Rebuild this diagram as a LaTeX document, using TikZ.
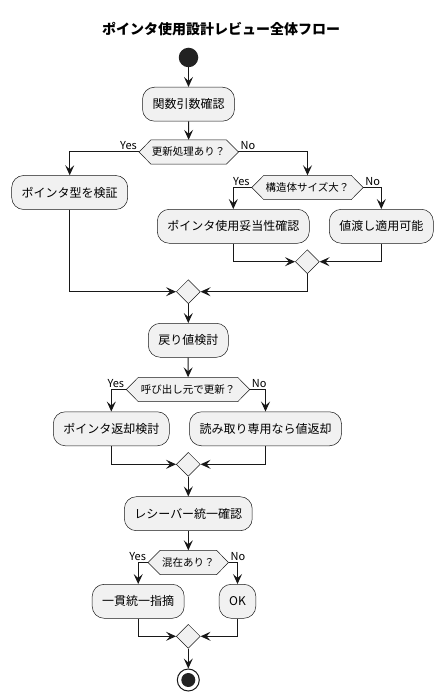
\documentclass[tikz,border=0pt]{standalone}
\usepackage{fontspec}
\setmainfont{Noto Sans CJK JP}
\usetikzlibrary{shapes.geometric,arrows.meta}
\definecolor{boxfill}{HTML}{F1F1F1}
\definecolor{linec}{HTML}{181818}
\definecolor{dotc}{HTML}{222222}
\pgfdeclarelayer{bg}
\pgfsetlayers{bg,main}
\tikzset{
  actbox/.style={draw=linec, fill=boxfill, line width=0.5pt, rounded corners=12pt,
    minimum height=34pt, inner xsep=10pt, font=\fontsize{12}{14}\selectfont},
  hexnode/.style={inner sep=0pt, minimum height=24pt, font=\fontsize{10.5}{12}\selectfont},
  hexshape/.style={draw=linec, fill=boxfill, line width=0.5pt},
  mergebox/.style={diamond, draw=linec, fill=boxfill, line width=0.5pt, inner sep=0pt, minimum width=24pt, minimum height=24pt},
  arr/.style={draw=linec, line width=1pt, -{Stealth[length=10pt,width=9pt,inset=4pt]}},
  ln/.style={draw=linec, line width=1pt},
  lbl/.style={inner sep=0pt, font=\fontsize{11}{12}\selectfont},
}
\newcommand{\hexdraw}[1]{%
  \begin{pgfonlayer}{bg}
  \path[hexshape] (#1.west) -- ([xshift=12pt]#1.north west) -- ([xshift=-12pt]#1.north east) -- (#1.east) -- ([xshift=-12pt]#1.south east) -- ([xshift=12pt]#1.south west) -- cycle;
  \end{pgfonlayer}}
\begin{document}
\begin{tikzpicture}[x=1pt,y=-1pt]
\useasboundingbox (0,0) rectangle (443,700);
\node[font=\bfseries\fontsize{14}{16}\selectfont] (title) at (221,29) {ポインタ使用設計レビュー全体フロー};
\node[circle, fill=dotc, minimum size=19.5pt, inner sep=0pt] (start) at (188.5,57.5) {};
\node[actbox] (b1) at (188.5,104.2) {関数引数確認};
\node[hexnode, minimum width=99pt] (h1) at (188.7,152) {更新処理あり？};
\hexdraw{h1}
\node[actbox] (b2) at (69.7,192.5) {ポインタ型を検証};
\node[hexnode, minimum width=111pt] (h2) at (307.5,187.5) {構造体サイズ大？};
\hexdraw{h2}
\node[actbox] (b3) at (233.3,226.3) {ポインタ使用妥当性確認};
\node[actbox] (b4) at (381.3,226.3) {値渡し適用可能};
\node[mergebox] (m1) at (307.3,261.7) {};
\node[mergebox] (m2) at (188.3,291.7) {};
\node[actbox] (b5) at (188.3,340.3) {戻り値検討};
\node[hexnode, minimum width=123pt] (h3) at (188,389.5) {呼び出し元で更新？};
\hexdraw{h3}
\node[actbox] (b6) at (111.3,428.8) {ポインタ返却検討};
\node[actbox] (b7) at (265.5,428.8) {読み取り専用なら値返却};
\node[mergebox] (m3) at (188.3,464.3) {};
\node[actbox] (b8) at (188.3,513.7) {レシーバー統一確認};
\node[hexnode, minimum width=80pt] (h4) at (188.3,562.5) {混在あり？};
\hexdraw{h4}
\node[actbox] (b9) at (138.2,601.3) {一貫統一指摘};
\node[actbox] (b10) at (237.5,601.3) {OK};
\node[mergebox] (m4) at (188.3,636.3) {};
\node[circle, draw=linec, line width=1pt, minimum size=22pt, inner sep=0pt] (end) at (188.3,680) {};
\fill[dotc] (end.center) circle (7pt);
% labels
\node[lbl, anchor=south east] (y1) at ([xshift=-2pt,yshift=2pt]h1.west) {Yes};
\node[lbl, anchor=south west] (n1) at ([xshift=2pt,yshift=2pt]h1.east) {No};
\node[lbl, anchor=south east] (y2) at ([xshift=-2pt,yshift=2pt]h2.west) {Yes};
\node[lbl, anchor=south west] (n2) at ([xshift=2pt,yshift=2pt]h2.east) {No};
\node[lbl, anchor=south east] (y3) at ([xshift=-2pt,yshift=2pt]h3.west) {Yes};
\node[lbl, anchor=south west] (n3) at ([xshift=2pt,yshift=2pt]h3.east) {No};
\node[lbl, anchor=south east] (y4) at ([xshift=-2pt,yshift=2pt]h4.west) {Yes};
\node[lbl, anchor=south west] (n4) at ([xshift=2pt,yshift=2pt]h4.east) {No};
% connectors
\draw[arr] (start) -- (b1);
\draw[arr] (b1) -- (h1);
\draw[arr] (h1.west) -| (b2);
\draw[arr] (h1.east) -| (h2);
\draw[arr] (h2.west) -| (b3);
\draw[arr] (h2.east) -| (b4);
\draw[arr] (b3) |- (m1);
\draw[arr] (b4) |- (m1);
\draw[arr] (m1) |- (m2);
\draw[arr] (b2) |- (m2);
\draw[arr] (m2) -- (b5);
\draw[arr] (b5) -- (h3);
\draw[arr] (h3.west) -| (b6);
\draw[arr] (h3.east) -| (b7);
\draw[arr] (b6) |- (m3);
\draw[arr] (b7) |- (m3);
\draw[arr] (m3) -- (b8);
\draw[arr] (b8) -- (h4);
\draw[arr] (h4.west) -| (b9);
\draw[arr] (h4.east) -| (b10);
\draw[arr] (b9) |- (m4);
\draw[arr] (b10) |- (m4);
\draw[arr] (m4) -- (end);
\end{tikzpicture}
\end{document}
